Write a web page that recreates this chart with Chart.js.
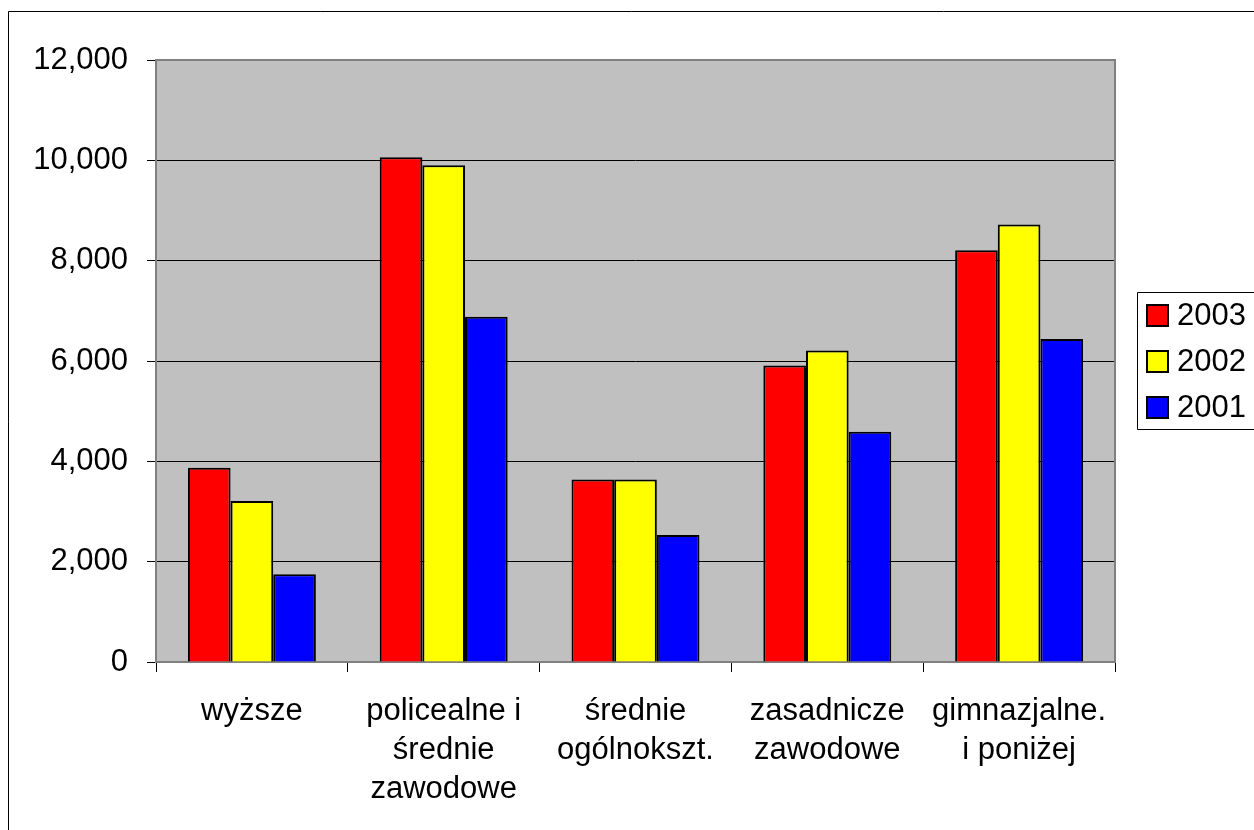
<!DOCTYPE html>
<html>
<head>
<meta charset="utf-8">
<script src="https://cdn.jsdelivr.net/npm/chart.js@4.4.1/dist/chart.umd.min.js"></script>
<style>
  html, body { margin: 0; padding: 0; background: #fff; overflow: hidden; }
  #wrap { position: relative; width: 1254px; height: 830px; }
</style>
</head>
<body>
<div id="wrap"><canvas id="chart1" width="1254" height="830"></canvas></div>
<script>
// Categories (multi-line labels) and yearly values
const categories = [
    ['wyższe'],
    ['policealne i', 'średnie', 'zawodowe'],
    ['średnie', 'ogólnokszt.'],
    ['zasadnicze', 'zawodowe'],
    ['gimnazjalne.', 'i poniżej']
];
const years = ['2003', '2002', '2001'];
const values2003 = [3870, 10060, 3640, 5910, 8210];
const values2002 = [3210, 9900, 3640, 6210, 8720];
const values2001 = [1750, 6880, 2530, 4590, 6440];
const yTicks = [0, 2000, 4000, 6000, 8000, 10000, 12000];

const fontFamily = '"Liberation Sans", Arial, sans-serif';

// Background, outer frame and grey plot area
const backgroundPlugin = {
    id: 'background',
    beforeDraw(chart) {
        const ctx = chart.ctx;
        const a = chart.chartArea;
        ctx.save();
        ctx.fillStyle = '#ffffff';
        ctx.fillRect(0, 0, chart.width, chart.height);
        ctx.strokeStyle = '#000000';
        ctx.lineWidth = 1;
        ctx.beginPath();
        ctx.moveTo(8.5, chart.height + 5);
        ctx.lineTo(8.5, 11.5);
        ctx.lineTo(chart.width + 5, 11.5);
        ctx.stroke();
        ctx.fillStyle = '#c0c0c0';
        ctx.fillRect(a.left, a.top, a.right - a.left, a.bottom - a.top);
        ctx.restore();
    },
    beforeDatasetsDraw(chart) {
        const ctx = chart.ctx;
        const a = chart.chartArea;
        ctx.save();
        ctx.strokeStyle = '#808080';
        ctx.lineWidth = 2;
        ctx.strokeRect(a.left, a.top, a.right - a.left, a.bottom - a.top);
        ctx.restore();
    }
};

// Boxed legend on the right, like the spreadsheet one
const boxLegendPlugin = {
    id: 'boxLegend',
    afterDraw(chart) {
        const ctx = chart.ctx;
        const left = 1137, top = 292, bottom = 429;
        ctx.save();
        ctx.strokeStyle = '#000000';
        ctx.lineWidth = 1;
        ctx.beginPath();
        ctx.moveTo(chart.width + 5, top + 0.5);
        ctx.lineTo(left + 0.5, top + 0.5);
        ctx.lineTo(left + 0.5, bottom + 0.5);
        ctx.lineTo(chart.width + 5, bottom + 0.5);
        ctx.stroke();
        ctx.font = '31px ' + fontFamily;
        ctx.textBaseline = 'middle';
        ctx.textAlign = 'left';
        chart.data.datasets.forEach((ds, i) => {
            const cy = 315 + i * 46;
            ctx.fillStyle = ds.backgroundColor;
            ctx.fillRect(1147, cy - 10, 21, 21);
            ctx.lineWidth = 2;
            ctx.strokeStyle = '#000000';
            ctx.strokeRect(1147, cy - 10, 21, 21);
            ctx.fillStyle = '#000000';
            ctx.fillText(ds.label, 1177, cy + 1);
        });
        ctx.restore();
    }
};

let ctx1 = document.getElementById('chart1').getContext('2d');
let chart1 = new Chart(ctx1, {
    type: 'bar',
    data: {
        labels: categories,
        datasets: [
            { label: years[0], data: values2003, backgroundColor: '#ff0000' },
            { label: years[1], data: values2002, backgroundColor: '#ffff00' },
            { label: years[2], data: values2001, backgroundColor: '#0000ff' }
        ]
    },
    options: {
        responsive: false,
        animation: false,
        devicePixelRatio: 1,
        datasets: {
            bar: {
                borderColor: '#000000',
                borderWidth: 2,
                barPercentage: 1,
                categoryPercentage: 0.667
            }
        },
        layout: {
            padding: { left: 0, top: 60, right: 139, bottom: 0 }
        },
        plugins: {
            legend: { display: false },
            tooltip: { enabled: false }
        },
        scales: {
            x: {
                grid: {
                    offset: true,
                    drawOnChartArea: false,
                    drawTicks: true,
                    tickLength: 10,
                    color: '#000000'
                },
                border: { display: false },
                ticks: {
                    color: '#000000',
                    maxRotation: 0,
                    autoSkip: false,
                    padding: 20,
                    font: { family: fontFamily, size: 31, lineHeight: 1.26 }
                },
                afterFit(scale) { scale.height = 168; }
            },
            y: {
                min: 0,
                max: 12000,
                afterBuildTicks(scale) {
                    scale.ticks = yTicks.map(v => ({ value: v }));
                },
                grid: {
                    color: '#000000',
                    lineWidth: 1,
                    drawTicks: true,
                    tickLength: 9
                },
                border: { display: false },
                ticks: {
                    color: '#000000',
                    padding: 19,
                    font: { family: fontFamily, size: 31 },
                    callback: (v) => Number(v).toLocaleString('en-US')
                },
                afterFit(scale) { scale.width = 156; }
            }
        }
    },
    plugins: [backgroundPlugin, boxLegendPlugin]
});
</script>
</body>
</html>
